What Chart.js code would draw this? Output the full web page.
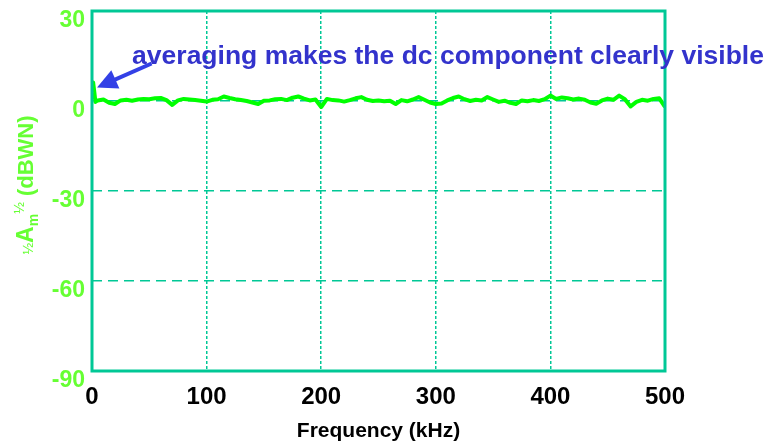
<!DOCTYPE html>
<html lang="en">
  <head>
    <meta charset="UTF-8" />
    <title>Averaged spectrum</title>
    <script src="https://cdn.jsdelivr.net/npm/chart.js"></script>
    <style>
      body { margin: 0; background: #fff; }
    </style>
  </head>
  <body>
    <canvas id="spectrumChart" width="772" height="444"></canvas>

    <script>
      // frequency (kHz) and averaged level (dBWN)
      const freqs = [0, 1, 2, 3, 5, 10, 15, 20, 25, 30, 35, 40, 45, 50, 55, 60, 65, 70, 75, 80, 85, 90, 95,
        100, 105, 110, 115, 120, 125, 130, 135, 140, 145, 150, 155, 160, 165, 170, 175, 180, 185, 190, 195,
        200, 205, 210, 215, 220, 225, 230, 235, 240, 245, 250, 255, 260, 265, 270, 275, 280, 285, 290, 295,
        300, 305, 310, 315, 320, 325, 330, 335, 340, 345, 350, 355, 360, 365, 370, 375, 380, 385, 390, 395,
        400, 405, 410, 415, 420, 425, 430, 435, 440, 445, 450, 455, 460, 465, 470, 475, 480, 485, 490, 495, 500];
      const levels = [3, 6.2, 3, -0.3, 0.2, 0.5, -0.6, -1, 0.2, 0.4, 0.1, 0.5, 0.7, 0.6, 0.9, 1, 0.3, -1.3, 0.2, 0.7, 0.5, 0.3, 0.1,
        -0.2, 0.4, 0.6, 1.5, 1.0, 0.6, 0.3, 0, -0.5, -1, 0.1, 0.2, 0.6, 0.7, 0.3, 1.1, 1.5, 0.8, 0.2, 0.5,
        -2, 0.7, 0.3, 0.2, -0.2, 0.3, 0.9, 1.3, 0.4, 0, 0.2, -0.1, 0.1, -1, 0.3, -0.1, 0.5, 1.3, 0.4, -0.5,
        -1, -0.8, 0.2, 1.0, 1.5, 0.6, 0, 0.4, 0.2, 1.3, 0.5, -0.3, 0.1, -0.6, -1, 0.2, -0.1, 0.3, 0, 0.6,
        1.8, 0.7, 1.2, 0.9, 0.5, 0.8, 0.4, -0.5, -0.9, 0.2, 0.8, 0.4, 1.8, 0.6, -1.8, -0.3, 0.4, 0.1, 0.7, 0.9, -2];

      const xTicks = [0, 100, 200, 300, 400, 500];
      const yTicks = [-90, -60, -30, 0, 30];

      const note = "averaging makes the dc component clearly visible";
      const noteTip = { x: 4.4, y: 4.5 };    // arrow points at the dc spike
      const noteTail = { x: 52, y: 12.5 };
      const noteText = { x: 35, y: 12.5 };

      const teal = "#00c896";
      const green = "#66ff33";
      const blue = "#3333cc";
      const font = "'Liberation Sans', Arial, sans-serif";

      // frame round the plot, the arrow note, and the y title with its sub/superscripts
      const extras = {
        id: "extras",
        afterDraw(chart) {
          const { ctx, chartArea: a, scales } = chart;
          const x = scales.x, y = scales.y;
          ctx.save();
          ctx.strokeStyle = teal;
          ctx.lineWidth = 3;
          ctx.strokeRect(a.left, a.top, a.right - a.left, a.bottom - a.top);

          // arrow
          const tx = x.getPixelForValue(noteTip.x), ty = y.getPixelForValue(noteTip.y);
          const sx = x.getPixelForValue(noteTail.x), sy = y.getPixelForValue(noteTail.y);
          const ang = Math.atan2(ty - sy, tx - sx);
          const c = Math.cos(ang), s = Math.sin(ang);
          ctx.strokeStyle = "#3340e6";
          ctx.fillStyle = "#3340e6";
          ctx.lineWidth = 4;
          ctx.beginPath();
          ctx.moveTo(sx, sy);
          ctx.lineTo(tx - 14 * c, ty - 14 * s);
          ctx.stroke();
          ctx.beginPath();
          ctx.moveTo(tx, ty);
          ctx.lineTo(tx - 20 * c + 10 * s, ty - 20 * s - 10 * c);
          ctx.lineTo(tx - 20 * c - 10 * s, ty - 20 * s + 10 * c);
          ctx.closePath();
          ctx.fill();

          ctx.fillStyle = blue;
          ctx.font = "bold 26.5px " + font;
          ctx.textBaseline = "alphabetic";
          ctx.fillText(note, x.getPixelForValue(noteText.x), y.getPixelForValue(noteText.y));

          // y title: ½A_m^½ (dBWN)
          const parts = [
            { t: "\u00bd", f: "14px " + font, dy: 0 },
            { t: "A", f: "bold 23px " + font, dy: 0 },
            { t: "m", f: "bold 14px " + font, dy: 5 },
            { t: "\u00bd", f: "14px " + font, dy: -9 },
            { t: " (dBWN)", f: "bold 22px " + font, dy: 0 },
          ];
          let total = 0;
          parts.forEach((p) => { ctx.font = p.f; p.w = ctx.measureText(p.t).width; total += p.w; });
          ctx.translate(33, 185);
          ctx.rotate(-Math.PI / 2);
          ctx.fillStyle = green;
          ctx.textBaseline = "alphabetic";
          let cx = -total / 2;
          parts.forEach((p) => { ctx.font = p.f; ctx.fillText(p.t, cx, p.dy); cx += p.w; });
          ctx.restore();
        },
      };

      const edge = (min, max) => (c) =>
        c.tick && (c.tick.value === min || c.tick.value === max) ? "rgba(0,0,0,0)" : teal;

      new Chart(document.getElementById("spectrumChart"), {
        type: "line",
        data: {
          datasets: [
            {
              data: freqs.map((f, i) => ({ x: f, y: levels[i] })),
              borderColor: "#00ff00",
              borderWidth: 4,
              pointRadius: 0,
              tension: 0,
              borderJoinStyle: "round",
            },
          ],
        },
        options: {
          responsive: false,
          animation: false,
          layout: { padding: { left: 0, top: 11, right: 107, bottom: 0 } },
          plugins: { legend: { display: false }, tooltip: { enabled: false } },
          scales: {
            x: {
              type: "linear",
              min: 0,
              max: 500,
              afterBuildTicks: (s) => { s.ticks = xTicks.map((v) => ({ value: v })); },
              afterFit: (s) => { s.height = 73; s.paddingLeft = 0; s.paddingRight = 0; },
              grid: { color: edge(0, 500), lineWidth: 1.5, drawTicks: false },
              border: { display: false, dash: [3, 2] },
              ticks: { color: "#000", padding: 12, maxRotation: 0, font: { family: font, size: 24, weight: "bold" } },
              title: {
                display: true,
                text: "Frequency (kHz)",
                color: "#000",
                padding: { top: 0, bottom: 0 },
                font: { family: font, size: 21, weight: "bold" },
              },
            },
            y: {
              min: -90,
              max: 30,
              afterBuildTicks: (s) => { s.ticks = yTicks.map((v) => ({ value: v })); },
              afterFit: (s) => { s.width = 92; s.paddingTop = 0; s.paddingBottom = 0; },
              grid: { color: edge(-90, 30), lineWidth: 1.5, drawTicks: false },
              border: { display: false, dash: [10, 6] },
              ticks: { color: green, padding: 7, labelOffset: 10, font: { family: font, size: 23, weight: "bold" } },
            },
          },
        },
        plugins: [extras],
      });
    </script>
  </body>
</html>
